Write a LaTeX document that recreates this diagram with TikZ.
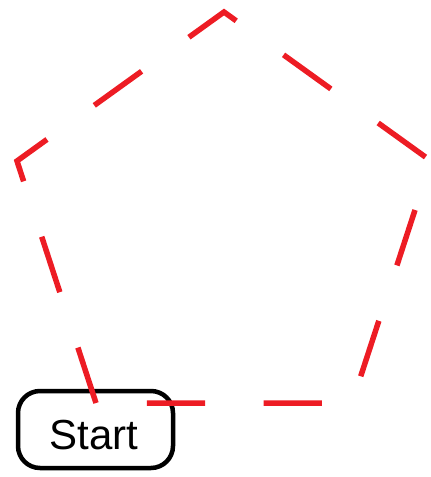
\documentclass[tikz,border=0pt]{standalone}
\usepackage{fontspec}
\setmainfont{Liberation Sans}
\definecolor{pentred}{RGB}{237,28,36}
\tikzset{
  startbox/.style={draw=black, line width=4.5pt, rounded corners=22pt, minimum width=155pt, minimum height=77pt, inner sep=0pt, font=\fontsize{42}{42}\selectfont},
  pentline/.style={draw=pentred, line width=5.5pt, dash pattern=on 58.3pt off 58.3pt, line join=miter}
}
\begin{document}
\begin{tikzpicture}[x=1pt,y=-1pt]
\useasboundingbox (0,0) rectangle (431,477);
\node[startbox] (start) at (95.5,429.5) {\hspace*{-3pt}\raisebox{-20pt}[0pt][0pt]{Start}};
\coordinate (b) at (96,403);
\coordinate (l) at (17,161);
\coordinate (t) at (224,12);
\coordinate (r) at (431,161);
\coordinate (br) at (352,403);
\draw[pentline] (b) -- (l) -- (t) -- (r) -- (br) -- cycle;
\end{tikzpicture}
\end{document}
